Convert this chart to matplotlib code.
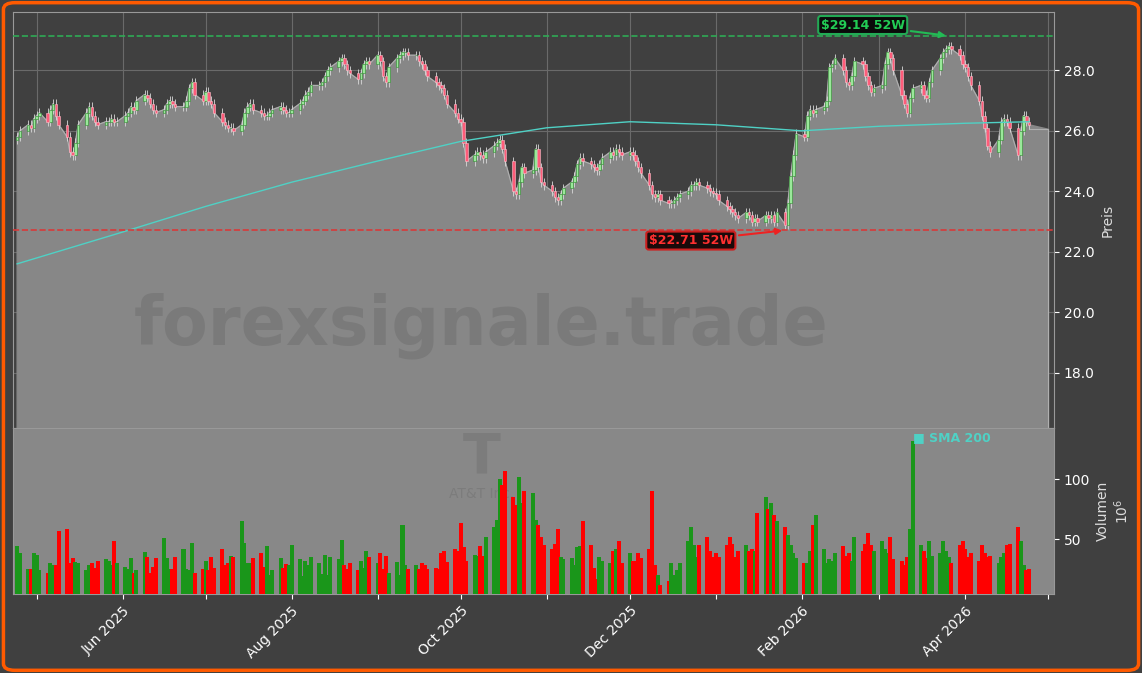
import matplotlib
matplotlib.use("Agg")
import matplotlib.pyplot as plt
import matplotlib.dates as mdates
import numpy as np
import pandas as pd
from matplotlib.patches import FancyBboxPatch

closes = [25.8,26.0,26.2,26.1,26.4,
 26.5,26.6,26.3,26.7,26.9,26.5,26.2,25.8,25.3,25.2,25.6,26.2,26.6,26.8,26.5,26.3,26.2,26.3,26.3,26.4,26.3,26.3,
 26.5,26.6,26.8,26.7,27.0,27.2,27.1,26.9,26.7,26.6,26.7,26.9,27.0,26.9,26.8,26.8,27.0,27.4,27.6,27.2,27.0,
 27.3,27.0,26.9,26.6,26.3,26.2,26.1,26.1,26.0,26.2,26.6,26.8,26.9,26.7,26.6,26.5,26.5,26.6,26.7,26.8,26.7,26.6,26.6,
 26.7,26.9,27.0,27.2,27.3,27.5,27.5,27.6,27.8,28.0,28.1,28.3,28.4,28.2,28.0,27.9,27.7,27.9,28.2,28.3,28.2,
 28.5,28.3,27.8,27.6,28.1,28.4,28.5,28.6,28.6,28.5,28.5,28.3,28.2,28.0,27.8,27.6,27.5,27.4,27.2,26.9,26.6,26.4,
 26.3,25.6,25.0,25.2,25.3,25.2,25.1,25.3,25.5,25.6,25.7,25.4,25.0,24.0,23.9,24.3,24.8,24.6,24.7,25.4,24.8,24.3,24.2,
 24.0,23.8,23.7,23.9,24.1,24.3,24.5,24.9,25.1,25.0,24.9,24.8,24.7,24.9,25.1,25.3,25.2,25.4,25.3,25.2,
 25.3,25.2,25.0,24.8,24.6,24.2,23.9,23.8,23.9,23.7,23.6,23.6,23.7,23.8,23.9,24.0,24.2,24.2,24.3,24.2,24.1,24.0,23.95,
 23.9,23.7,23.5,23.4,23.3,23.2,23.1,23.3,23.2,23.0,23.1,23.0,23.2,23.1,23.2,23.0,23.3,22.9,23.6,24.5,25.2,25.9,
 25.8,26.5,26.7,26.6,26.7,26.8,27.0,28.1,28.2,28.4,28.0,27.6,27.5,27.8,28.3,28.2,27.8,27.5,27.3,27.4,
 27.5,28.2,28.6,28.4,28.0,27.2,26.9,26.6,27.1,27.4,27.5,27.2,27.1,27.6,28.0,28.4,28.6,28.7,28.8,28.7,28.5,28.2,
 28.1,27.8,27.5,27.0,26.5,26.1,25.5,25.3,25.7,26.3,26.4,26.3,26.1,25.2,26.0,26.5,26.3,26.2]

volumes = [44,38,25,25,38,
 37,24,22,30,28,28,57,58,30,34,31,30,24,28,30,26,32,33,32,28,48,30,
 27,25,34,22,24,39,35,22,27,34,51,34,25,25,35,42,25,24,47,22,25,
 32,24,35,26,42,28,30,36,35,65,47,30,30,34,38,27,44,20,24,34,26,29,28,
 45,33,19,32,28,35,30,21,37,20,35,33,49,28,25,30,24,32,26,40,35,
 30,38,25,36,22,31,20,62,28,25,28,25,30,28,25,26,25,38,40,31,42,40,
 63,43,32,37,36,44,36,52,60,66,100,95,107,85,78,102,80,90,88,66,62,52,45,
 42,46,58,35,33,34,28,43,44,65,45,26,17,35,32,30,40,42,48,30,
 38,32,32,38,34,42,90,28,20,12,15,30,20,24,30,48,60,45,35,45,52,40,35,
 38,35,45,52,46,35,40,45,40,42,40,72,85,75,80,70,65,60,53,45,38,34,
 30,30,40,62,70,42,30,33,32,38,44,36,38,32,52,40,46,55,45,40,
 48,42,38,52,33,32,28,35,58,132,45,40,34,48,36,38,48,40,35,30,45,48,
 42,35,38,32,45,38,35,36,30,35,38,45,46,60,48,28,24,25]

sma_dates = ["2025-04-24","2025-06-01","2025-07-01","2025-08-01","2025-09-01","2025-10-01",
             "2025-11-01","2025-12-01","2026-01-01","2026-02-01","2026-03-01","2026-04-01","2026-04-24"]
sma_vals = [21.6,22.65,23.5,24.3,25.0,25.65,26.1,26.3,26.2,26.0,26.15,26.25,26.3]

high_52w = 29.14
low_52w = 22.71

n = min(len(closes), len(volumes))
closes = np.array(closes[:n]); volumes = np.array(volumes[:n])
dates = pd.bdate_range(start="2025-04-24", periods=n)
x = mdates.date2num(dates)
opens = np.concatenate([[closes[0]-0.1], closes[:-1]])
highs = np.maximum(opens, closes) + 0.15
lows = np.minimum(opens, closes) - 0.15

BG = "#404040"
fig = plt.figure(figsize=(11.42, 6.73), dpi=100, facecolor=BG)
fig.patches.append(FancyBboxPatch((0.003, 0.004), 0.994, 0.992, boxstyle="round,pad=0,rounding_size=0.01",
                                  transform=fig.transFigure, fill=False, edgecolor="#ff5a00", linewidth=2.5))
W = 1142; H = 673
ax = fig.add_axes([13/W, (H-428)/H, 1041/W, 416/H])
axv = fig.add_axes([13/W, (H-594)/H, 1041/W, 166/H], sharex=ax)

ax.set_facecolor(BG)
ax.grid(True, color="#6a6a6a", linewidth=0.8)
ax.set_axisbelow(True)
ax.set_xlim(x[0]-1.5, x[-1]+9)
ax.set_ylim(16.17, 29.93)

ext = x[-1] + 7
xf = np.concatenate([x, [ext]])
yf = np.concatenate([closes, [closes[-1]-0.15]])
ax.fill_between(xf, 0, yf, color="#878787", zorder=1)
ax.plot(x, closes, color="#b0b0b0", lw=0.8, zorder=2)
ax.plot([x[-1], ext, ext], [closes[-1]-0.15, closes[-1]-0.15, 0], color="#b0b0b0", lw=0.8, zorder=2)

up = closes >= opens
ax.vlines(x, lows, highs, color="#d8d8d8", lw=0.6, zorder=3)
ax.bar(x[up], (closes-opens)[up], bottom=opens[up], width=0.9, color="#9ae89a", edgecolor="#2e8b2e", lw=0.4, zorder=4)
ax.bar(x[~up], (closes-opens)[~up], bottom=opens[~up], width=0.9, color="#ff5c7a", edgecolor="#ffc0cb", lw=0.4, zorder=4)

ax.plot(mdates.date2num(pd.to_datetime(sma_dates)), sma_vals, color="#4fd1c5", lw=1.0, zorder=5)
ax.axhline(high_52w, color="#2faa55", ls="--", lw=1.2, zorder=5)
ax.axhline(low_52w, color="#d83a3a", ls="--", lw=1.2, zorder=5)

ih = int(np.argmax(closes)); il = int(np.argmin(closes))
ax.annotate(f"${high_52w:.2f} 52W", xy=(x[ih], high_52w), xytext=(x[ih]-31, 29.5),
            color="#22cc55", fontsize=9, fontweight="bold", ha="center", va="center",
            bbox=dict(boxstyle="round,pad=0.2", fc="#0a0a0a", ec="#22aa55", lw=1.5),
            arrowprops=dict(arrowstyle="-|>", color="#22bb55", lw=1.5), zorder=8)
ax.annotate(f"${low_52w:.2f} 52W", xy=(x[il], low_52w), xytext=(x[il]-34, 22.37),
            color="#ff3030", fontsize=9, fontweight="bold", ha="center", va="center",
            bbox=dict(boxstyle="round,pad=0.2", fc="#1a0a0a", ec="#cc2020", lw=1.5),
            arrowprops=dict(arrowstyle="-|>", color="#ee2222", lw=1.5), zorder=8)

ax.text(0.45, 0.245, "forexsignale.trade", transform=ax.transAxes, fontsize=48, fontweight="bold",
        color="#7a7a7a", ha="center", va="center", zorder=1.5)

ax.yaxis.tick_right(); ax.yaxis.set_label_position("right")
ax.set_yticks([18, 20, 22, 24, 26, 28])
ax.yaxis.set_major_formatter(matplotlib.ticker.FormatStrFormatter("%.1f"))
ax.tick_params(axis="y", colors="white", labelsize=10)
ax.tick_params(axis="x", length=0, labelbottom=False)
ax.set_ylabel("Preis", color="#dddddd", fontsize=10)
for s in ax.spines.values():
    s.set_color("#999999")

axv.set_facecolor("#888888")
colors = np.where(up, "#1a961a", "#ff0000")
axv.bar(x, volumes, width=1.45, color=colors, zorder=3)
axv.set_ylim(4.2, 142.5)
axv.set_yticks([50, 100])
axv.yaxis.tick_right(); axv.yaxis.set_label_position("right")
axv.tick_params(axis="y", colors="white", labelsize=10)
axv.set_ylabel("Volumen\n$10^6$", color="#dddddd", fontsize=10)
axv.xaxis.set_major_locator(mdates.MonthLocator())
def fmt(v, pos):
    d = mdates.num2date(v)
    return d.strftime("%b %Y") if d.month % 2 == 0 else ""
axv.xaxis.set_major_formatter(matplotlib.ticker.FuncFormatter(fmt))
axv.tick_params(axis="x", colors="white", labelsize=10)
plt.setp(axv.get_xticklabels(), rotation=45, ha="right", rotation_mode="anchor")
for s in axv.spines.values():
    s.set_color("#999999")
axv.text(0.45, 0.82, "T", transform=axv.transAxes, fontsize=40, fontweight="bold", color="#7c7c7c",
         ha="center", va="center", zorder=1)
axv.text(0.45, 0.6, "AT&T Inc.", transform=axv.transAxes, fontsize=10, color="#7c7c7c",
         ha="center", va="center", zorder=1)
axv.text(0.865, 0.94, "■ SMA 200", transform=axv.transAxes, fontsize=9, fontweight="bold",
         color="#4fd1c5", ha="left", va="center", zorder=6)

fig.savefig("out.png", dpi=100, facecolor=BG)
